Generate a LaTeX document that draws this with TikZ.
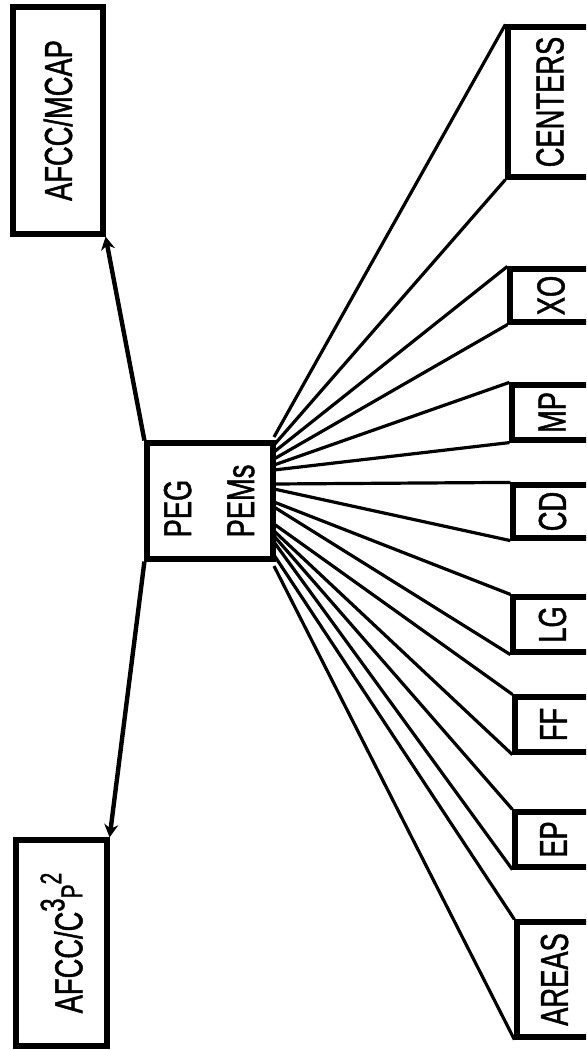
\documentclass[tikz,border=0pt]{standalone}
\usepackage{fontspec}
\setmainfont[FakeStretch=0.7,FakeBold=1.2]{Liberation Sans}
\usetikzlibrary{arrows.meta}
\begin{document}
\begin{tikzpicture}[x=0.5pt,y=-0.5pt,
  box/.style={draw, line width=2.6pt, inner sep=0pt, font=\fontsize{19.5}{31.5}\selectfont},
  fan/.style={line width=1.6pt},
  arr/.style={line width=2.2pt, -{Stealth[length=6.5pt,width=7pt]}}]
\clip (0,0) rectangle (586,1050);
\fill[white] (0,0) rectangle (586,1050);

% left boxes
\node[box, minimum width=45pt, minimum height=113.5pt] (mcap) at (58,120.5) {\rotatebox{90}{AFCC/MCAP}};
\node[box, minimum width=45.5pt, minimum height=103pt] (c3p2) at (61.5,943)
  {\rotatebox{90}{AFCC/C\raisebox{9pt}{\fontsize{17}{17}\selectfont 3}{\fontsize{15}{15}\selectfont P}\raisebox{10.5pt}{\fontsize{15}{15}\selectfont 2}}};

% central box
\node[box, minimum width=63pt, minimum height=58pt] (peg) at (210,501)
  {\rotatebox{90}{\begin{tabular}{@{}l@{}}PEG\\PEMs\end{tabular}}};

% right boxes (open to the right edge)
\node[box, minimum width=42pt,   minimum height=75pt]   (centers) at (550,102)   {\rotatebox{90}{CENTERS}};
\node[box, minimum width=41pt,   minimum height=26.5pt] (xo)      at (551,295.5) {\rotatebox{90}{XO}};
\node[box, minimum width=40pt,   minimum height=27.5pt] (mp)      at (552,412.5) {\rotatebox{90}{MP}};
\node[box, minimum width=39.5pt, minimum height=26.5pt] (cd)      at (552.5,511.5) {\rotatebox{90}{CD}};
\node[box, minimum width=39.5pt, minimum height=27.5pt] (lg)      at (552.5,624.5) {\rotatebox{90}{LG}};
\node[box, minimum width=38.5pt, minimum height=27.5pt] (ff)      at (553.5,724.5) {\rotatebox{90}{FF}};
\node[box, minimum width=38.5pt, minimum height=27.5pt] (ep)      at (553.5,839.5) {\rotatebox{90}{EP}};
\node[box, minimum width=37.5pt, minimum height=57.5pt] (areas)   at (554.5,979.5) {\rotatebox{90}{AREAS}};

% start points of the fan on the PEG box edge
\coordinate (s1)  at (274,437);
\coordinate (s2)  at (274,445);
\coordinate (s3)  at (274,452);
\coordinate (s4)  at (274,459);
\coordinate (s5)  at (274,465);
\coordinate (s6)  at (274,470);
\coordinate (s7)  at (274,484);
\coordinate (s8)  at (274,489);
\coordinate (s9)  at (274,502);
\coordinate (s10) at (274,507);
\coordinate (s11) at (274,524);
\coordinate (s12) at (274,531);
\coordinate (s13) at (274,536);
\coordinate (s14) at (274,542);
\coordinate (s15) at (274,555);
\coordinate (s16) at (274,566);

\draw[fan] (s1)  -- (centers.north west);
\draw[fan] (s2)  -- (centers.south west);
\draw[fan] (s3)  -- (xo.north west);
\draw[fan] (s4)  -- (xo.south west);
\draw[fan] (s5)  -- (mp.north west);
\draw[fan] (s6)  -- (mp.south west);
\draw[fan] (s7)  -- (cd.north west);
\draw[fan] (s8)  -- (cd.south west);
\draw[fan] (s9)  -- (lg.north west);
\draw[fan] (s10) -- (lg.south west);
\draw[fan] (s11) -- (ff.north west);
\draw[fan] (s12) -- (ff.south west);
\draw[fan] (s13) -- (ep.north west);
\draw[fan] (s14) -- (ep.south west);
\draw[fan] (s15) -- (areas.north west);
\draw[fan] (s16) -- (areas.south west);

% arrows
\draw[arr] (peg.north west) -- (mcap.south east);
\draw[arr] (peg.south west) -- (c3p2.north east);
\end{tikzpicture}
\end{document}
